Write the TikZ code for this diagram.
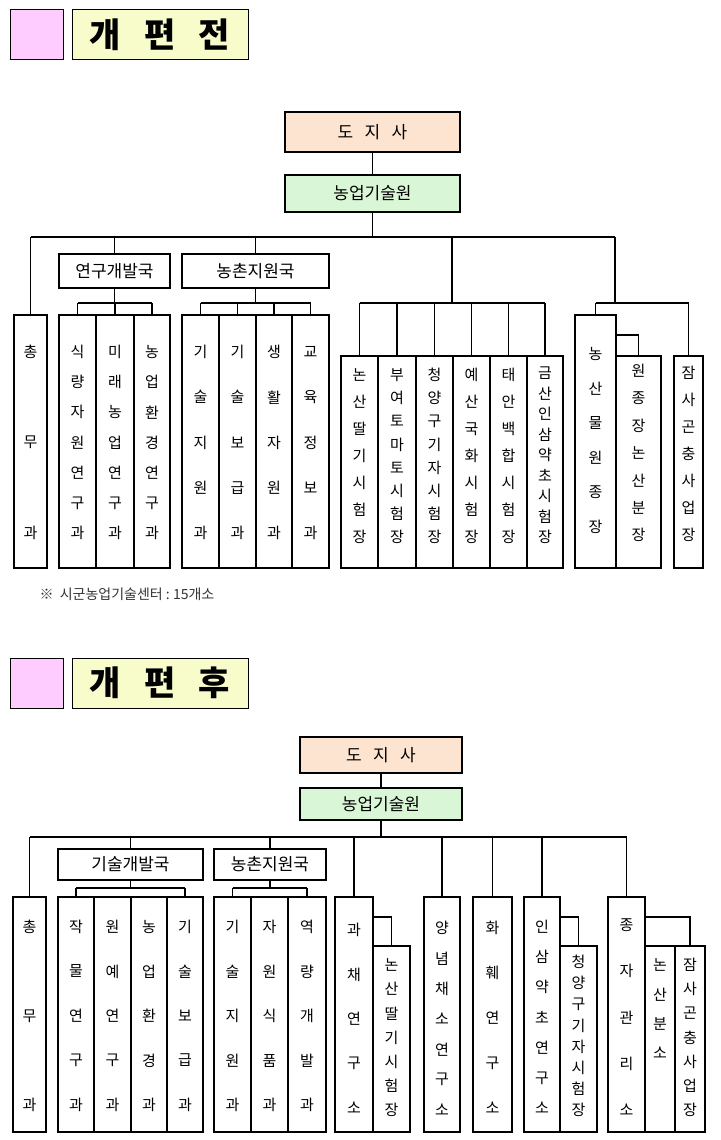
\documentclass[tikz,border=0pt]{standalone}
\usepackage{fontspec}
\setmainfont{Noto Sans CJK KR}
\usetikzlibrary{positioning}

\definecolor{titlepink}{HTML}{FFCCFF}
\definecolor{titleyellow}{HTML}{F8FCCB}
\definecolor{jisafill}{HTML}{FCE4D0}
\definecolor{wonfill}{HTML}{D9F7D6}

\tikzset{
  box/.style={draw,line width=1.3pt,inner sep=0pt,outer sep=0pt},
  ch/.style={inner sep=0pt,font=\fontsize{15}{15}\selectfont},
  head/.style={font=\fontsize{17}{17}\selectfont},
  title/.style={font=\bfseries\fontsize{34}{34}\selectfont},
  line/.style={line width=1.3pt}
}

% box from x1 to x2, y1 to y2 (pixels, y downward)
\newcommand\orgbox[7][]{%
  \node[box,#1,minimum width={(#4-#3)*1pt},minimum height={(#6-#5)*1pt}]
    (#2) at ({(#3+#4)/2},{(#5+#6)/2}) {#7};}
% characters set one under the other in a column box
\newcommand\coltext[5]{%
  \foreach \c [count=\i from 0] in {#5}{%
    \pgfmathsetmacro\yy{#2+(#3-#2)*\i/(#4-1)}
    \node[ch] at (#1.north |- 0,\yy) {\c};}}

\begin{document}
\begin{tikzpicture}[x=1pt,y=-1pt]
\useasboundingbox (0,0) rectangle (720,1140);

%%% before
\orgbox[fill=titlepink,line width=1pt]{pinkA}{10}{63}{10}{60}{}
\orgbox[fill=titleyellow,line width=1pt,title]{titleA}{72}{248}{10}{60}{개\ \ \ 편\ \ \ 전}
\orgbox[fill=jisafill,head]{jisaA}{285}{460}{112}{152}{도\ \ \ 지\ \ \ 사}
\orgbox[fill=wonfill,head]{wonA}{285}{460}{175}{212}{농업기술원}
\orgbox[head]{gukAa}{59}{170}{254}{288}{연구개발국}
\orgbox[head]{gukAb}{182}{329}{254}{288}{농촌지원국}

\orgbox{chongA}{14}{47}{315}{568}{}
\orgbox{a1}{59}{96}{315}{568}{}
\orgbox{a2}{96}{134}{315}{568}{}
\orgbox{a3}{134}{170}{315}{568}{}
\orgbox{b1}{182}{219}{315}{568}{}
\orgbox{b2}{219}{256}{315}{568}{}
\orgbox{b3}{256}{292}{315}{568}{}
\orgbox{b4}{292}{329}{315}{568}{}
\orgbox{s1}{341}{378}{356}{568}{}
\orgbox{s2}{378}{416}{356}{568}{}
\orgbox{s3}{416}{453}{356}{568}{}
\orgbox{s4}{453}{490}{356}{568}{}
\orgbox{s5}{490}{527}{356}{568}{}
\orgbox{s6}{527}{563}{356}{568}{}
\orgbox{r1}{575}{616}{315}{568}{}
\orgbox{r2}{616}{661}{356}{568}{}
\orgbox{r3}{674}{703}{356}{568}{}

\coltext{chongA}{352}{533}{3}{총,무,과}
\coltext{a1}{352}{533}{7}{식,량,자,원,연,구,과}
\coltext{a2}{352}{533}{7}{미,래,농,업,연,구,과}
\coltext{a3}{352}{533}{7}{농,업,환,경,연,구,과}
\coltext{b1}{352}{533}{5}{기,술,지,원,과}
\coltext{b2}{352}{533}{5}{기,술,보,급,과}
\coltext{b3}{352}{533}{5}{생,활,자,원,과}
\coltext{b4}{352}{533}{5}{교,육,정,보,과}
\coltext{s1}{375}{537}{7}{논,산,딸,기,시,험,장}
\coltext{s2}{375}{537}{8}{부,여,토,마,토,시,험,장}
\coltext{s3}{375}{537}{8}{청,양,구,기,자,시,험,장}
\coltext{s4}{375}{537}{7}{예,산,국,화,시,험,장}
\coltext{s5}{375}{537}{7}{태,안,백,합,시,험,장}
\coltext{s6}{373}{537}{9}{금,산,인,삼,약,초,시,험,장}
\coltext{r1}{354}{527}{6}{농,산,물,원,종,장}
\coltext{r2}{371}{535}{7}{원,종,장,논,산,분,장}
\coltext{r3}{373}{535}{7}{잠,사,곤,충,사,업,장}

\coordinate (busA) at (368,237);
\coordinate (stA) at (452,303);
\coordinate (rtA) at (615,303);
\draw[line] (jisaA) -- (wonA);
\draw[line] (wonA.south) -- (wonA.south |- busA);
\draw[line] (chongA.north |- busA) -- (rtA |- busA);
\foreach \n in {chongA,gukAa,gukAb} \draw[line] (\n.north) -- (\n.north |- busA);
\draw[line] (stA |- busA) -- (stA);
\draw[line] (rtA |- busA) -- (rtA);
\draw[line] (a1.north |- stA) -- (a3.north |- stA);
\draw[line] (gukAa) -- (gukAa.south |- stA);
\foreach \n in {a1,a2,a3} \draw[line] (\n.north) -- (\n.north |- stA);
\draw[line] (b1.north |- stA) -- (b4.north |- stA);
\draw[line] (gukAb) -- (gukAb.south |- stA);
\foreach \n in {b1,b2,b3,b4} \draw[line] (\n.north) -- (\n.north |- stA);
\draw[line] (s1.north |- stA) -- (s6.north |- stA);
\foreach \n in {s1,s2,s3,s4,s5,s6} \draw[line] (\n.north) -- (\n.north |- stA);
\draw[line] (r1.north |- rtA) -- (r3.north |- rtA);
\foreach \n in {r1,r3} \draw[line] (\n.north) -- (\n.north |- rtA);
\draw[line] (r1.north east) ++(0,20) -| (r2.north);

\node[anchor=west,font=\fontsize{14}{14}\selectfont,text=black!80] (noteA) at (36,594) {※\ \ 시군농업기술센터\ :\ 15개소};

%%% after
\orgbox[fill=titlepink,line width=1pt]{pinkB}{10}{63}{658}{708}{}
\orgbox[fill=titleyellow,line width=1pt,title]{titleB}{72}{248}{658}{708}{개\ \ \ 편\ \ \ 후}
\orgbox[fill=jisafill,head]{jisaB}{300}{462}{737}{773}{도\ \ \ 지\ \ \ 사}
\orgbox[fill=wonfill,head]{wonB}{300}{462}{788}{820}{농업기술원}
\orgbox[head]{gukBa}{58}{203}{849}{880}{기술개발국}
\orgbox[head]{gukBb}{214}{326}{849}{880}{농촌지원국}

\orgbox{chongB}{13}{46}{897}{1132}{}
\orgbox{c1}{58}{94}{897}{1132}{}
\orgbox{c2}{94}{131}{897}{1132}{}
\orgbox{c3}{131}{167}{897}{1132}{}
\orgbox{c4}{167}{203}{897}{1132}{}
\orgbox{d1}{214}{251}{897}{1132}{}
\orgbox{d2}{251}{288}{897}{1132}{}
\orgbox{d3}{288}{326}{897}{1132}{}
\orgbox{e1}{335}{373}{897}{1132}{}
\orgbox{e2}{373}{410}{946}{1132}{}
\orgbox{f1}{424}{460}{897}{1132}{}
\orgbox{g1}{473}{512}{897}{1132}{}
\orgbox{h1}{524}{560}{897}{1132}{}
\orgbox{h2}{560}{597}{946}{1132}{}
\orgbox{k1}{608}{645}{897}{1132}{}
\orgbox{k2}{645}{675}{946}{1132}{}
\orgbox{k3}{675}{705}{946}{1132}{}

\coltext{chongB}{927}{1105}{3}{총,무,과}
\coltext{c1}{927}{1105}{5}{작,물,연,구,과}
\coltext{c2}{927}{1105}{5}{원,예,연,구,과}
\coltext{c3}{927}{1105}{5}{농,업,환,경,과}
\coltext{c4}{927}{1105}{5}{기,술,보,급,과}
\coltext{d1}{927}{1105}{5}{기,술,지,원,과}
\coltext{d2}{927}{1105}{5}{자,원,식,품,과}
\coltext{d3}{927}{1105}{5}{역,량,개,발,과}
\coltext{e1}{930}{1108}{5}{과,채,연,구,소}
\coltext{e2}{965}{1110}{7}{논,산,딸,기,시,험,장}
\coltext{f1}{928}{1110}{7}{양,념,채,소,연,구,소}
\coltext{g1}{928}{1108}{5}{화,훼,연,구,소}
\coltext{h1}{927}{1108}{7}{인,삼,약,초,연,구,소}
\coltext{h2}{962}{1110}{8}{청,양,구,기,자,시,험,장}
\coltext{k1}{925}{1110}{5}{종,자,관,리,소}
\coltext{k2}{965}{1053}{4}{논,산,분,소}
\coltext{k3}{965}{1110}{7}{잠,사,곤,충,사,업,장}

\coordinate (busB) at (381,837);
\coordinate (subB) at (0,888);
\draw[line] (jisaB) -- (wonB);
\draw[line] (wonB.south) -- (wonB.south |- busB);
\draw[line] (chongB.north |- busB) -- (k1.north |- busB);
\foreach \n in {chongB,gukBa,gukBb,e1,f1,g1,h1,k1} \draw[line] (\n.north) -- (\n.north |- busB);
\draw[line] (gukBa) -- (gukBa.south |- subB);
\draw[line] (c1.north |- subB) -- (c4.north |- subB);
\foreach \n in {c1,c4} \draw[line] (\n.north) -- (\n.north |- subB);
\draw[line] (gukBb) -- (gukBb.south |- subB);
\draw[line] (d1.north |- subB) -- (d3.north |- subB);
\foreach \n in {d1,d3} \draw[line] (\n.north) -- (\n.north |- subB);
\draw[line] (e1.north east) ++(0,20) -| (e2.north);
\draw[line] (h1.north east) ++(0,20) -| (h2.north);
\draw[line] (k1.north east) ++(0,20) -| (k3.north);
\end{tikzpicture}
\end{document}
